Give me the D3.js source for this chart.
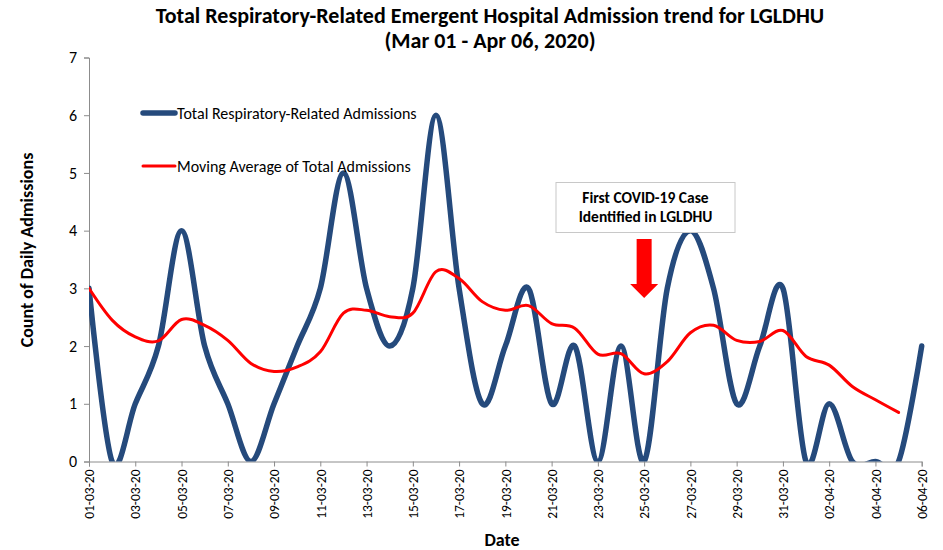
<!DOCTYPE html>
<html>
<head>
<meta charset="utf-8">
<script src="https://cdn.jsdelivr.net/npm/d3@7"></script>
<style>
  body { margin: 0; background: #fff; }
  svg { font-family: Carlito, "Liberation Sans", Arial, sans-serif; }
</style>
</head>
<body>
<svg id="chart" width="943" height="550"></svg>
<script>
// daily categories (dd-mm-yy)
var dates = ["01-03-20","02-03-20","03-03-20","04-03-20","05-03-20","06-03-20","07-03-20",
  "08-03-20","09-03-20","10-03-20","11-03-20","12-03-20","13-03-20","14-03-20","15-03-20",
  "16-03-20","17-03-20","18-03-20","19-03-20","20-03-20","21-03-20","22-03-20","23-03-20",
  "24-03-20","25-03-20","26-03-20","27-03-20","28-03-20","29-03-20","30-03-20","31-03-20",
  "01-04-20","02-04-20","03-04-20","04-04-20","05-04-20","06-04-20"];

// total respiratory-related admissions per day
var admissions = [3,0,1,2,4,2,1,0,1,2,3,5,3,2,3,6,3,1,2,3,1,2,0,2,0,3,4,3,1,2,3,0,1,0,0,0,2];

// moving average (ends one day before the last date)
var movingAvg = [3.0,2.45,2.16,2.09,2.46,2.36,2.1,1.7,1.56,1.64,1.9,2.57,2.62,2.51,2.57,3.29,3.17,
  2.77,2.62,2.7,2.39,2.31,1.86,1.87,1.52,1.73,2.23,2.36,2.1,2.08,2.27,1.82,1.67,1.3,1.07,0.85];

var yTicks = [0,1,2,3,4,5,6,7];
var firstCaseDay = "25-03-20";

var svg = d3.select("#chart");
var plotLeft = 89, plotRight = 921.7, plotTop = 57.5, plotBottom = 461.5;

var x = d3.scaleLinear().domain([0, dates.length - 1]).range([plotLeft, plotRight]);
var y = d3.scaleLinear().domain([0, 7]).range([plotBottom, plotTop]);

// title
var title = svg.append("text")
  .attr("text-anchor", "middle")
  .style("font-weight", "bold").style("font-size", "22px").style("fill", "#000");
title.append("tspan").attr("x", 490).attr("y", 23)
  .text("Total Respiratory-Related Emergent Hospital Admission trend for LGLDHU");
title.append("tspan").attr("x", 490).attr("y", 48)
  .text("(Mar 01 - Apr 06, 2020)");

// axes
var yAxis = svg.append("g")
  .attr("transform", "translate(" + plotLeft + ",0)")
  .call(d3.axisLeft(y).tickValues(yTicks).tickSize(5).tickPadding(7).tickFormat(d3.format("d")));

var xTickIdx = d3.range(0, dates.length, 2);
var xAxis = svg.append("g")
  .attr("transform", "translate(0," + plotBottom + ")")
  .call(d3.axisBottom(x).tickValues(xTickIdx).tickSize(5)
    .tickFormat(function (d) { return dates[d]; }));

svg.selectAll(".domain, .tick line").attr("stroke", "#8c8c8c");
yAxis.selectAll("text").style("font-size", "16px").style("fill", "#000")
  .style("font-family", "Carlito, 'Liberation Sans', Arial, sans-serif");
xAxis.selectAll("text")
  .style("font-size", "13.5px").style("fill", "#000")
  .style("font-family", "Carlito, 'Liberation Sans', Arial, sans-serif")
  .attr("text-anchor", "end")
  .attr("transform", "rotate(-90)")
  .attr("x", -8).attr("y", 0).attr("dy", "0.35em");

// axis titles
svg.append("text")
  .attr("transform", "translate(33,250) rotate(-90)")
  .attr("text-anchor", "middle")
  .style("font-weight", "bold").style("font-size", "18px")
  .text("Count of Daily Admissions");

svg.append("text")
  .attr("x", 502).attr("y", 546).attr("text-anchor", "middle")
  .style("font-weight", "bold").style("font-size", "18px")
  .text("Date");

// clip to plot area
svg.append("clipPath").attr("id", "plotclip")
  .append("rect").attr("x", plotLeft).attr("y", 0)
  .attr("width", plotRight - plotLeft + 10).attr("height", plotBottom);

var line = d3.line()
  .x(function (d, i) { return x(i); })
  .y(function (d) { return y(d); })
  .curve(d3.curveCardinal.tension(0));

var plot = svg.append("g").attr("clip-path", "url(#plotclip)");

plot.append("path")
  .datum(admissions)
  .attr("d", line)
  .attr("fill", "none")
  .attr("stroke", "#254a7c")
  .attr("stroke-width", 5.5)
  .attr("stroke-linecap", "round")
  .attr("stroke-linejoin", "round");

plot.append("path")
  .datum(movingAvg)
  .attr("d", line)
  .attr("fill", "none")
  .attr("stroke", "#ff0000")
  .attr("stroke-width", 3)
  .attr("stroke-linecap", "round");

// legend
var legend = [
  { label: "Total Respiratory-Related Admissions", color: "#254a7c", w: 5.5, y: 113 },
  { label: "Moving Average of Total Admissions", color: "#ff0000", w: 3, y: 166 }
];
var lg = svg.selectAll(".legend").data(legend).enter().append("g").attr("class", "legend");
lg.append("line")
  .attr("x1", 143).attr("x2", 175)
  .attr("y1", function (d) { return d.y; }).attr("y2", function (d) { return d.y; })
  .attr("stroke", function (d) { return d.color; })
  .attr("stroke-width", function (d) { return d.w; })
  .attr("stroke-linecap", "round");
lg.append("text")
  .attr("x", 177).attr("y", function (d) { return d.y; }).attr("dy", "0.35em")
  .style("font-size", "16px")
  .text(function (d) { return d.label; });

// annotation box
var ax = x(dates.indexOf(firstCaseDay));
svg.append("rect")
  .attr("x", 556).attr("y", 182.5).attr("width", 179).attr("height", 50)
  .attr("fill", "#fff").attr("stroke", "#c8c8c8").attr("stroke-width", 1);
var note = svg.append("text").attr("text-anchor", "middle")
  .style("font-weight", "bold").style("font-size", "15.5px");
note.append("tspan").attr("x", 645.5).attr("y", 203).text("First COVID-19 Case");
note.append("tspan").attr("x", 645.5).attr("y", 222).text("Identified in LGLDHU");

// arrow pointing to the first case date
svg.append("path")
  .attr("d", "M" + (ax - 7.5) + ",239 L" + (ax + 7.5) + ",239 L" + (ax + 7.5) + ",284 L" +
    (ax + 14) + ",284 L" + ax + ",298 L" + (ax - 14) + ",284 L" + (ax - 7.5) + ",284 Z")
  .attr("fill", "#ff0000");
</script>
</body>
</html>
